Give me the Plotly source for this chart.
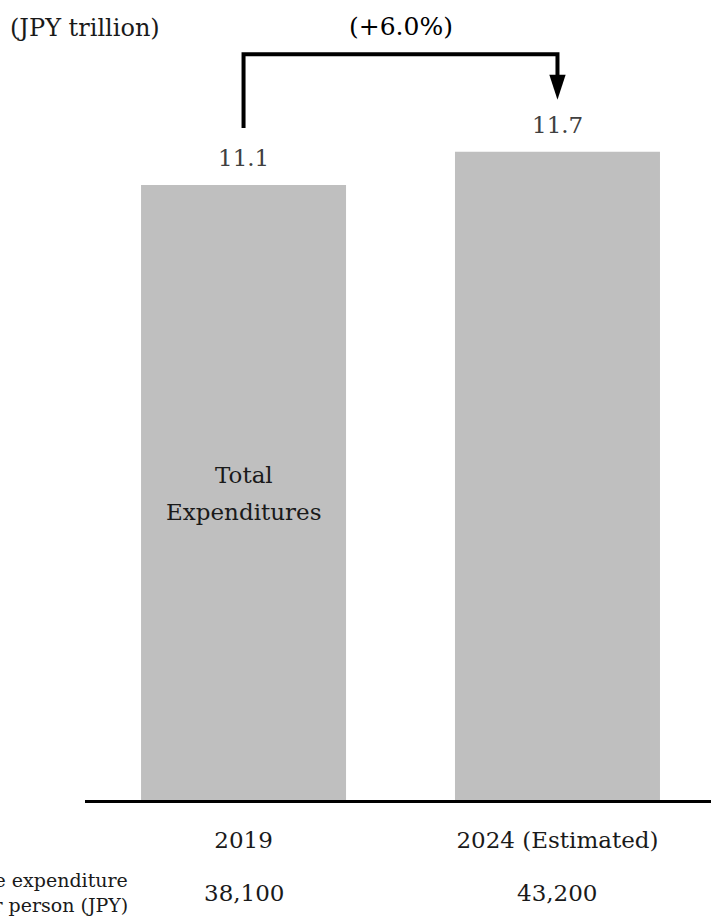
import plotly.graph_objects as go

categories = ["2019", "2024 (Estimated)"]
values = [11.1, 11.7]
per_person = ["38,100", "43,200"]
value_labels = ["11.1", "11.7"]
growth_label = "(+6.0%)"
unit_label = "(JPY trillion)"
row_label = ["Average expenditure", "per person (JPY)"]
inside_label = ["Total", "Expenditures"]

FONT = "DejaVu Serif"
FS = 23
W, H = 711, 920
ML, MR, MT, MB = 85, 0, 0, 120
PW, PH = W - ML - MR, H - MT - MB
xr = [-0.505, 1.489]
ymax = 14.44

xs = list(range(len(categories)))

fig = go.Figure()
fig.add_trace(go.Bar(x=xs, y=values, width=0.653, marker_color="#BFBFBF",
                     marker_line_width=0, hoverinfo="skip"))

# bracket connecting the bars
y_start = values[0] + 1.03
y_top = max(values) + 1.76
y_tip = values[1] + 0.94
head_len = 0.45
fig.add_trace(go.Scatter(x=[xs[0], xs[0], xs[1], xs[1]],
                         y=[y_start, y_top, y_top, y_tip + head_len * 0.8],
                         mode="lines", line=dict(color="black", width=4),
                         hoverinfo="skip"))
hw = 0.026
fig.add_shape(type="path",
              path=f"M {xs[1]-hw},{y_tip+head_len} L {xs[1]+hw},{y_tip+head_len} L {xs[1]},{y_tip} Z",
              fillcolor="black", line=dict(width=0), xref="x", yref="y")

ann = []
for x, v, t in zip(xs, values, value_labels):
    ann.append(dict(x=x, y=v, text=t, showarrow=False, yanchor="middle", yshift=27,
                    font=dict(family=FONT, size=FS, color="#404040")))
for x, t in zip(xs, per_person):
    ann.append(dict(x=x, y=1 - 893 / PH, yref="paper", text=t, showarrow=False,
                    yanchor="middle", font=dict(family=FONT, size=FS, color="#1a1a1a")))
for i, t in enumerate(row_label):
    ann.append(dict(x=(130 - ML) / PW, xref="paper", y=1 - (880 + 25 * i) / PH, yref="paper",
                    text=t, showarrow=False, xanchor="right", yanchor="middle",
                    font=dict(family=FONT, size=19, color="#1a1a1a")))
for i, t in enumerate(inside_label):
    ann.append(dict(x=xs[0], y=5.87 - 0.67 * i, text=t, showarrow=False, yanchor="middle",
                    font=dict(family=FONT, size=FS, color="#1a1a1a")))
ann.append(dict(x=(xs[0] + xs[1]) / 2, y=1 - 27 / PH, yref="paper", text=growth_label,
                showarrow=False, yanchor="middle", font=dict(family=FONT, size=25, color="black")))
ann.append(dict(x=(8 - ML) / PW, xref="paper", y=1 - 28 / PH, yref="paper", text=unit_label,
                showarrow=False, xanchor="left", yanchor="middle",
                font=dict(family=FONT, size=24, color="#1a1a1a")))

fig.update_layout(
    width=W, height=H, margin=dict(l=ML, r=MR, t=MT, b=MB),
    paper_bgcolor="white", plot_bgcolor="white", showlegend=False,
    font=dict(family=FONT, size=FS, color="#1a1a1a"),
    annotations=ann,
    xaxis=dict(range=xr, tickvals=xs, ticktext=categories, showgrid=False, zeroline=False,
               showline=True, linecolor="black", linewidth=3, ticks="",
               ticklabelstandoff=17, tickfont=dict(family=FONT, size=FS, color="#1a1a1a"),
               fixedrange=True),
    yaxis=dict(range=[0, ymax], visible=False, fixedrange=True),
)
fig.write_html("out.html")
